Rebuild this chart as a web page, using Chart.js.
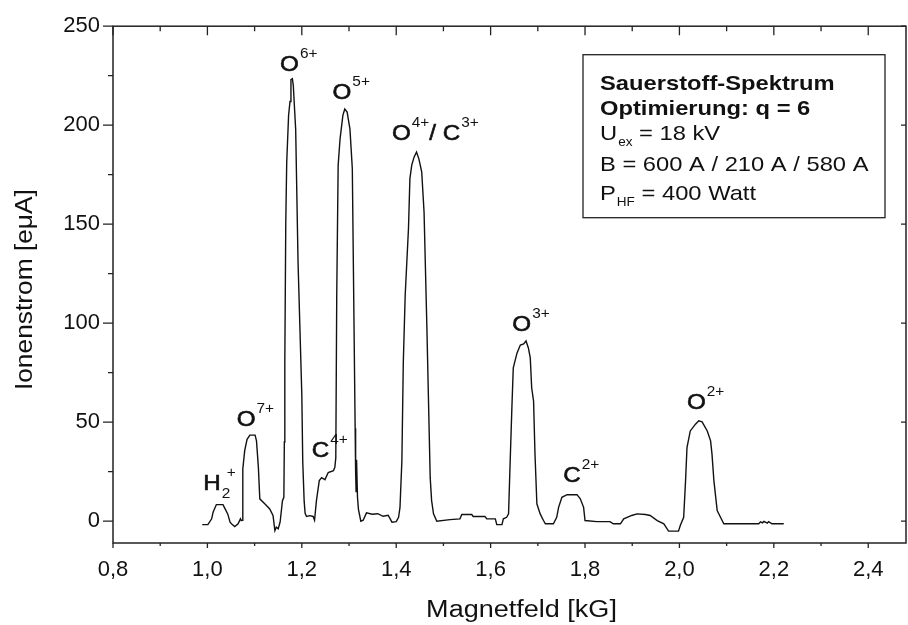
<!DOCTYPE html>
<html>
<head>
<meta charset="utf-8">
<script src="https://cdn.jsdelivr.net/npm/chart.js@4.4.1/dist/chart.umd.min.js"></script>
<style>
  html, body { margin: 0; padding: 0; background: #fff; }
  #spektrum { display: block; }
</style>
</head>
<body>
<canvas id="spektrum" width="908" height="625"></canvas>
<script>
// scan of the analysing magnet: field in kG, ion current in eμA
const fieldKG = [
  0.989, 1.001, 1.009, 1.012, 1.019, 1.033, 1.037, 1.043, 1.048, 1.052,
  1.058, 1.065, 1.070, 1.072, 1.074, 1.075, 1.079, 1.084, 1.090, 1.101,
  1.104, 1.108, 1.111, 1.122, 1.132, 1.139, 1.143, 1.146, 1.150, 1.154,
  1.159, 1.162,
  1.163, 1.164, 1.166, 1.168, 1.172, 1.175, 1.177, 1.180, 1.182, 1.184,
  1.187, 1.192, 1.200, 1.202, 1.205, 1.207, 1.210, 1.217, 1.224, 1.227,
  1.228, 1.231, 1.237, 1.242, 1.249, 1.256, 1.267, 1.270, 1.272,
  1.274, 1.277, 1.281, 1.287, 1.291, 1.296, 1.302, 1.307, 1.313, 1.314,
  1.315, 1.316, 1.318, 1.320, 1.325, 1.330, 1.337,
  1.349, 1.361, 1.372, 1.383, 1.391, 1.400, 1.405,
  1.408, 1.412, 1.415, 1.419, 1.426, 1.429, 1.433, 1.438, 1.443, 1.448,
  1.454, 1.459, 1.465, 1.472, 1.475, 1.479, 1.486,
  1.514, 1.535, 1.539, 1.560, 1.563, 1.588, 1.592, 1.610, 1.613, 1.624,
  1.627, 1.634, 1.638,
  1.641, 1.645, 1.648, 1.656, 1.663, 1.670, 1.675, 1.680, 1.684, 1.687,
  1.691, 1.694, 1.698, 1.705, 1.712, 1.716,
  1.733, 1.740, 1.744, 1.751, 1.762, 1.783, 1.790, 1.797, 1.800,
  1.825, 1.853, 1.860, 1.875, 1.882, 1.899, 1.910, 1.928, 1.938, 1.953,
  1.967, 1.977, 1.998, 2.002, 2.009,
  2.013, 2.016, 2.023, 2.034, 2.041, 2.048, 2.059, 2.066, 2.069, 2.073,
  2.080, 2.087, 2.094,
  2.168, 2.172, 2.176, 2.179, 2.186, 2.189, 2.196, 2.221
];
const currentEuA = [
  -1.7, -1.7, 1.2, 4.5, 8.4, 8.4, 6.5, 3.7, -0.5, -1.5,
  -2.7, -1.3, 1.2, 0.3, 0.5, 26.4, 35.6, 41.4, 43.5, 43.5,
  40.6, 27.2, 11.3, 8.7, 6.2, 2.9, -4.7, -3, -3.8, -0.5,
  10.4, 12.1,
  40, 80, 150, 181, 205, 212, 223, 223.5, 220, 211,
  198, 131, 64, 30, 10, 4, 2.4, 2.8, 2.4, 0.5,
  3, 10.4, 20.5, 22, 21, 24.6, 25.5, 27.2, 32,
  114, 179.8, 193, 205, 208.2, 206.6, 198, 178, 47, 25,
  15, 31, 12, 6, 0, 0.5, 4.2,
  3.5, 3.8, 2.5, 3, -0.5, -0.2, 2,
  7, 30.5, 80, 114, 148, 173, 180, 184, 186.4, 183,
  176.4, 156, 97.6, 22, 10.4, 3.7, 0,
  0.8, 1.2, 3.4, 3.4, 2.4, 2.4, 1.2, 1.2, -1.7, -1.7,
  1.2, 2, 3.7,
  27, 57, 77.5, 85, 89, 89.5, 91, 87.5, 82.5, 67.4,
  60.7, 33.9, 8.8, 3.7, 0.35, -1.3,
  -1.3, 2, 7, 12.1, 13.4, 13.4, 11.3, 7, 0.35,
  -0.2, -0.2, -1.3, -1.3, 1.2, 2.9, 3.7, 3.4, 2.9, 0.35,
  -1.3, -5, -5, -2, 2,
  20.5, 37.2, 45.6, 49, 50.7, 50.2, 45.6, 40.6, 33.9, 20.5,
  5.4, 2, -1.3,
  -1.3, -0.3, -0.8, -0.1, -1, -0.2, -1.3, -1.3
];

const xTicks = [0.8, 1.0, 1.2, 1.4, 1.6, 1.8, 2.0, 2.2, 2.4];
const xMinorTicks = [0.9, 1.1, 1.3, 1.5, 1.7, 1.9, 2.1, 2.3];
const yTicks = [0, 50, 100, 150, 200, 250];
const yMinorTicks = [25, 75, 125, 175, 225];

// peak names (^{} superscript, _{} subscript) and where they sit, in kG / eμA
const peakNames = ['H_{2}^{+}', 'O^{7+}', 'O^{6+}', 'C^{4+}', 'O^{5+}', 'O^{4+}/ C^{3+}', 'O^{3+}', 'C^{2+}', 'O^{2+}'];
const peakNameX = [0.991, 1.062, 1.154, 1.221, 1.265, 1.391, 1.646, 1.754, 2.016];
const peakNameY = [15.8, 48.1, 227.6, 32.2, 213.3, 192.4, 95.9, 19.6, 56.5];

const infoLines = ['Sauerstoff-Spektrum', 'Optimierung: q = 6', 'U_{ex} = 18 kV', 'B = 600 A / 210 A / 580 A', 'P_{HF} = 400 Watt'];
const infoBold = [true, true, false, false, false];

const xTitle = 'Magnetfeld [kG]';
const yTitle = 'Ionenstrom [eμA]';

const FONT = '"Liberation Sans", Arial, Helvetica, sans-serif';
const INK = '#111';

const points = fieldKG.map((b, i) => ({ x: b, y: currentEuA[i] }));

// draws text with ^{..} / _{..} parts, slightly widened like the original lettering
function drawRich(ctx, text, x, y, o) {
  const parts = text.match(/\^\{[^}]*\}|_\{[^}]*\}|[^^_]+/g);
  let cx = x, subStart = null;
  parts.forEach(p => {
    let str = p, size = o.size, dy = 0, kind = 'main';
    if (p[0] === '^') { kind = 'sup'; str = p.slice(2, -1); size = o.small; dy = -o.raise; }
    else if (p[0] === '_') { kind = 'sub'; str = p.slice(2, -1); size = o.small; dy = o.drop; }
    ctx.font = (o.bold ? 'bold ' : '') + size + 'px ' + FONT;
    let px = kind === 'main' ? cx : cx + 1;
    if (kind === 'sup' && subStart !== null) px = subStart + 5;
    ctx.save();
    ctx.translate(px, y + dy);
    ctx.scale(o.stretch, 1);
    ctx.fillText(str, 0, 0);
    if (o.heavy && kind === 'main') {
      ctx.lineWidth = o.heavy;
      ctx.strokeText(str, 0, 0);
    }
    ctx.restore();
    const w = ctx.measureText(str).width * o.stretch;
    if (kind === 'sub') subStart = px; else subStart = null;
    cx = Math.max(cx, px + w);
  });
}

const frameAndTicks = {
  id: 'frameAndTicks',
  afterDraw(chart) {
    const { ctx, chartArea: a, scales: { x, y } } = chart;
    ctx.save();
    ctx.strokeStyle = '#222';
    ctx.lineWidth = 1.5;
    ctx.strokeRect(a.left, a.top, a.right - a.left, a.bottom - a.top);
    ctx.lineWidth = 1.3;
    ctx.beginPath();
    const seg = (x1, y1, x2, y2) => { ctx.moveTo(x1, y1); ctx.lineTo(x2, y2); };
    xTicks.forEach(v => {
      const px = x.getPixelForValue(v);
      seg(px, a.bottom, px, a.bottom + 5);
      seg(px, a.top, px, a.top + 9);
    });
    xMinorTicks.forEach(v => {
      const px = x.getPixelForValue(v);
      seg(px, a.bottom, px, a.bottom + 3);
      seg(px, a.top, px, a.top + 5);
    });
    yTicks.forEach(v => {
      const py = y.getPixelForValue(v);
      seg(a.left - 10, py, a.left, py);
      seg(a.right - 5, py, a.right, py);
    });
    yMinorTicks.forEach(v => {
      const py = y.getPixelForValue(v);
      seg(a.left - 5, py, a.left, py);
    });
    ctx.stroke();
    ctx.restore();
  }
};

const annotations = {
  id: 'annotations',
  afterDraw(chart) {
    const { ctx, chartArea: a, scales: { x, y } } = chart;
    ctx.save();
    ctx.fillStyle = INK;
    ctx.strokeStyle = INK;
    ctx.textBaseline = 'alphabetic';
    ctx.textAlign = 'left';

    peakNames.forEach((name, i) => {
      drawRich(ctx, name, x.getPixelForValue(peakNameX[i]), y.getPixelForValue(peakNameY[i]),
        { size: 22, small: 14, raise: 13, drop: 8, stretch: 1.1, heavy: 0.6 });
    });

    // parameter box, upper right
    const bx = a.right - 323, by = a.top + 28.5, bw = 302, bh = 163;
    ctx.strokeStyle = '#222';
    ctx.lineWidth = 1.3;
    ctx.strokeRect(bx, by, bw, bh);
    const lineY = [35, 60, 85, 116.5, 145];
    infoLines.forEach((t, i) => {
      drawRich(ctx, t, bx + 17, by + lineY[i],
        { size: 21, small: 12, raise: 10, drop: 6, stretch: 1.13, bold: infoBold[i] });
    });

    // axis titles
    ctx.font = '23.5px ' + FONT;
    ctx.textAlign = 'center';
    ctx.save();
    ctx.translate((a.left + a.right) / 2 + 12, 616.5);
    ctx.scale(1.15, 1);
    ctx.fillText(xTitle, 0, 0);
    ctx.restore();
    ctx.save();
    ctx.translate(31.5, (a.top + a.bottom) / 2 + 5);
    ctx.rotate(-Math.PI / 2);
    ctx.scale(1.12, 1);
    ctx.fillText(yTitle, 0, 0);
    ctx.restore();
    ctx.restore();
  }
};

const tickFont = { family: FONT, size: 22 };

new Chart(document.getElementById('spektrum'), {
  type: 'scatter',
  data: {
    datasets: [{
      data: points,
      showLine: true,
      borderColor: INK,
      borderWidth: 1.4,
      pointRadius: 0,
      tension: 0,
      fill: false
    }]
  },
  options: {
    responsive: false,
    animation: false,
    devicePixelRatio: 1,
    events: [],
    layout: { padding: { top: 23, right: 2, left: 0, bottom: 0 } },
    plugins: { legend: { display: false }, tooltip: { enabled: false } },
    scales: {
      x: {
        type: 'linear',
        min: 0.8,
        max: 2.48,
        grid: { display: false, drawTicks: false },
        border: { display: false },
        afterBuildTicks: s => { s.ticks = xTicks.map(v => ({ value: v })); },
        afterFit: s => { s.height = 82; },
        ticks: {
          padding: 14,
          color: INK,
          font: tickFont,
          maxRotation: 0,
          autoSkip: false,
          callback: v => v.toFixed(1).replace('.', ',')
        }
      },
      y: {
        type: 'linear',
        min: -11,
        max: 250,
        grid: { display: false, drawTicks: false },
        border: { display: false },
        afterBuildTicks: s => { s.ticks = yTicks.map(v => ({ value: v })); },
        afterFit: s => { s.width = 113; },
        ticks: {
          padding: 13,
          color: INK,
          font: tickFont,
          autoSkip: false,
          callback: v => String(v)
        }
      }
    }
  },
  plugins: [frameAndTicks, annotations]
});
</script>
</body>
</html>
